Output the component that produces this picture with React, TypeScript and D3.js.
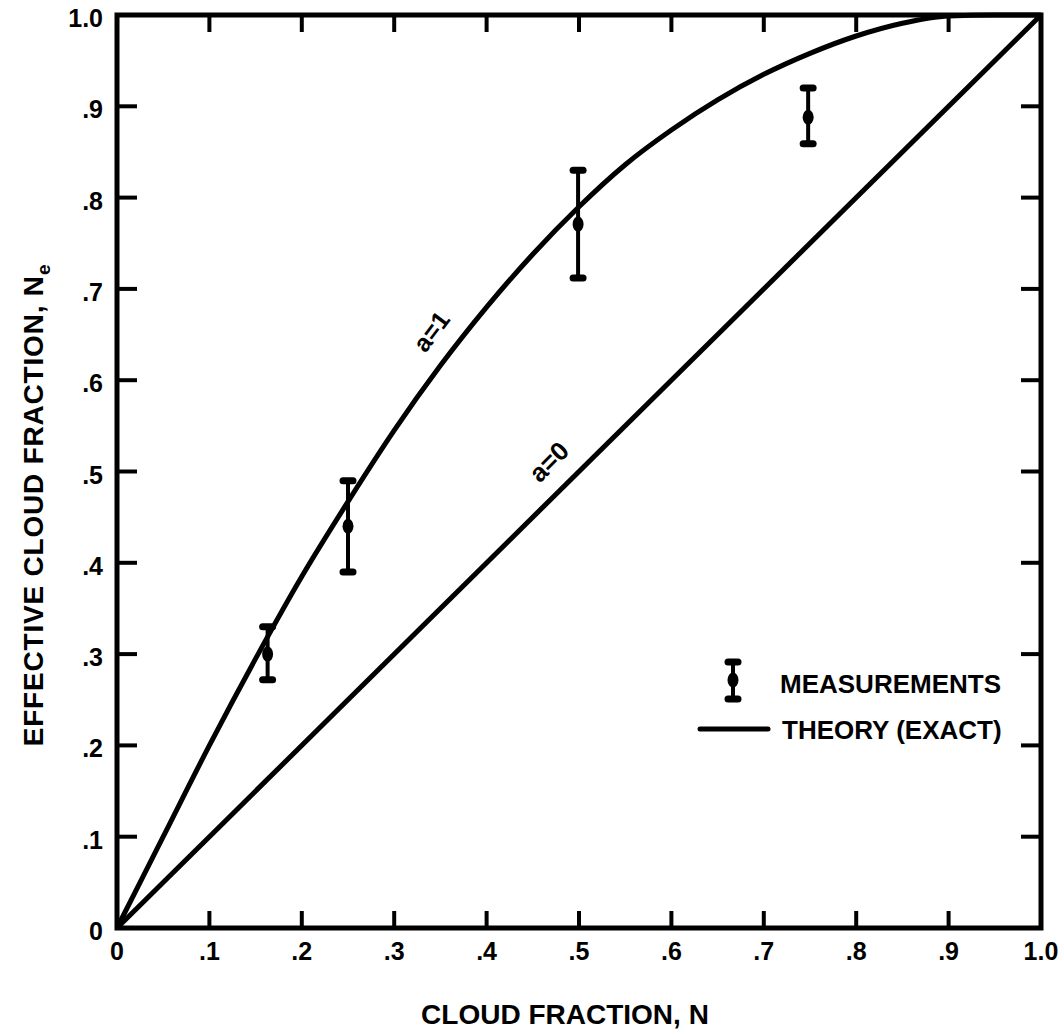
import React from 'react';
import * as d3 from 'd3';

const W = 1064;
const H = 1034;

// tick values and labels
const tickValues = [0, 0.1, 0.2, 0.3, 0.4, 0.5, 0.6, 0.7, 0.8, 0.9, 1.0];
const xTickLabels = ['0', '.1', '.2', '.3', '.4', '.5', '.6', '.7', '.8', '.9', '1.0'];
const yTickLabels = ['0', '.1', '.2', '.3', '.4', '.5', '.6', '.7', '.8', '.9', '1.0'];

// theory a = 0 (straight line)
const theoryA0N = [0, 1.0];
const theoryA0Ne = [0, 1.0];

// theory a = 1
const theoryA1N = [0, 0.05, 0.1, 0.15, 0.2, 0.25, 0.3, 0.35, 0.4, 0.45, 0.5, 0.55, 0.6, 0.65, 0.7, 0.75, 0.8, 0.85, 0.9, 0.95, 1.0];
const theoryA1Ne = [0, 0.1, 0.2, 0.295, 0.385, 0.467, 0.545, 0.616, 0.68, 0.738, 0.79, 0.836, 0.874, 0.907, 0.935, 0.958, 0.977, 0.991, 0.999, 1.0, 1.0];

// measurements
const measN = [0.163, 0.25, 0.499, 0.748];
const measNe = [0.3, 0.44, 0.771, 0.888];
const measLow = [0.272, 0.39, 0.712, 0.859];
const measHigh = [0.33, 0.49, 0.83, 0.92];

const FONT = "'Liberation Sans', Arial, Helvetica, sans-serif";

export default function App() {
  const x = d3.scaleLinear().domain([0, 1]).range([117, 1041]);
  const y = d3.scaleLinear().domain([0, 1]).range([928, 15]);

  const line = d3
    .line<[number, number]>()
    .x((d) => x(d[0]))
    .y((d) => y(d[1]))
    .curve(d3.curveMonotoneX);

  const a0 = theoryA0N.map((n, i) => [n, theoryA0Ne[i]] as [number, number]);
  const a1 = theoryA1N.map((n, i) => [n, theoryA1Ne[i]] as [number, number]);

  const sw = 5;
  const tickLenY = 20;
  const tickLenX = 17;

  const x0 = x(0), x1 = x(1), y0 = y(0), y1 = y(1);

  const errBar = (cx: number, cy: number, lo: number, hi: number, key: string) => (
    <g key={key}>
      <line x1={cx} x2={cx} y1={lo} y2={hi} stroke="#000" strokeWidth={4} />
      <line x1={cx - 5} x2={cx + 5} y1={lo} y2={lo} stroke="#000" strokeWidth={7} strokeLinecap="round" />
      <line x1={cx - 5} x2={cx + 5} y1={hi} y2={hi} stroke="#000" strokeWidth={7} strokeLinecap="round" />
      <ellipse cx={cx} cy={cy} rx={5.5} ry={7.5} fill="#000" />
    </g>
  );

  const a1Pos = { n: 0.342, ne: 0.652 };
  const a0Pos = { n: 0.469, ne: 0.509 };

  return (
    <svg
      width={W}
      height={H}
      style={{ position: 'absolute', left: 0, top: 0, background: '#fff' }}
      fontFamily={FONT}
      fontWeight="bold"
    >
      <rect x={0} y={0} width={W} height={H} fill="#fff" />

      {/* theory curves */}
      <path d={line(a0) || ''} fill="none" stroke="#000" strokeWidth={5} />
      <path d={line(a1) || ''} fill="none" stroke="#000" strokeWidth={5} />

      {/* frame */}
      <rect x={x0} y={y1} width={x1 - x0} height={y0 - y1} fill="none" stroke="#000" strokeWidth={sw} />

      {/* ticks */}
      {tickValues.slice(1, -1).map((v, i) => (
        <g key={'t' + i}>
          <line x1={x(v)} x2={x(v)} y1={y0} y2={y0 - tickLenX} stroke="#000" strokeWidth={4} />
          <line x1={x(v)} x2={x(v)} y1={y1} y2={y1 + tickLenX} stroke="#000" strokeWidth={4} />
          <line x1={x0} x2={x0 + tickLenY} y1={y(v)} y2={y(v)} stroke="#000" strokeWidth={4} />
          <line x1={x1} x2={x1 - tickLenY} y1={y(v)} y2={y(v)} stroke="#000" strokeWidth={4} />
        </g>
      ))}

      {/* tick labels */}
      {tickValues.map((v, i) => (
        <text key={'xl' + i} x={x(v)} y={y0 + 32} fontSize={25} textAnchor="middle">
          {xTickLabels[i]}
        </text>
      ))}
      {tickValues.map((v, i) => (
        <text key={'yl' + i} x={x0 - 14} y={y(v) + 12} fontSize={25} textAnchor="end">
          {yTickLabels[i]}
        </text>
      ))}

      {/* measurements */}
      {measN.map((n, i) => errBar(x(n), y(measNe[i]), y(measLow[i]), y(measHigh[i]), 'm' + i))}

      {/* curve labels */}
      <text
        transform={`translate(${x(a1Pos.n)},${y(a1Pos.ne)}) rotate(-53)`}
        fontSize={25}
        textAnchor="middle"
        dominantBaseline="middle"
      >
        a=1
      </text>
      <text
        transform={`translate(${x(a0Pos.n)},${y(a0Pos.ne)}) rotate(-45)`}
        fontSize={26}
        textAnchor="middle"
        dominantBaseline="middle"
      >
        a=0
      </text>

      {/* legend */}
      {errBar(733, 680, 699, 662, 'legend')}
      <text x={780} y={693} fontSize={26}>MEASUREMENTS</text>
      <line x1={700} x2={768} y1={729} y2={729} stroke="#000" strokeWidth={5} strokeLinecap="round" />
      <text x={782} y={739} fontSize={26}>THEORY (EXACT)</text>

      {/* axis titles */}
      <text x={565} y={1024} fontSize={28} textAnchor="middle">CLOUD FRACTION, N</text>
      <text transform={`translate(43,505) rotate(-90)`} fontSize={28} textAnchor="middle" letterSpacing={0.8}>
        EFFECTIVE CLOUD FRACTION, N
        <tspan fontSize={19} dy={7}>e</tspan>
      </text>
    </svg>
  );
}
